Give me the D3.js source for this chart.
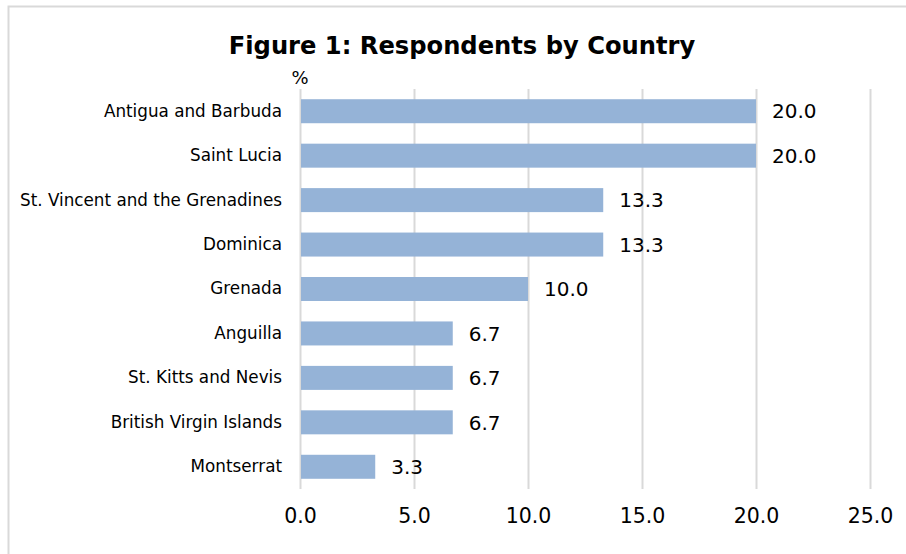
<!DOCTYPE html>
<html>
<head>
<meta charset="utf-8">
<script src="https://cdn.jsdelivr.net/npm/d3@7"></script>
<style>
  html, body { margin: 0; padding: 0; background: #fff; }
  svg { display: block; font-family: "DejaVu Sans", sans-serif; }
</style>
</head>
<body>
<svg id="chart" width="906" height="554"></svg>
<script>
const categories = ["Antigua and Barbuda", "Saint Lucia", "St. Vincent and the Grenadines", "Dominica", "Grenada", "Anguilla", "St. Kitts and Nevis", "British Virgin Islands", "Montserrat"];
const values = [20.0, 20.0, 13.3, 13.3, 10.0, 6.7, 6.7, 6.7, 3.3];
const tickValues = [0, 5, 10, 15, 20, 25];
const title = "Figure 1: Respondents by Country";
const unitLabel = "%";

const FONT = "'DejaVu Sans', sans-serif";
const svg = d3.select("#chart");
const W = 906, H = 554;
const plot = { left: 300, right: 870, top: 89, bottom: 489 };

// chart border
svg.append("path")
  .attr("d", `M8.5,${H} L8.5,6.5 L${W},6.5`)
  .attr("fill", "none").attr("stroke", "#d9d9d9").attr("stroke-width", 2);

const x = d3.scaleLinear().domain([0, 25]).range([plot.left, plot.right]);
const y = d3.scaleBand().domain(categories).range([plot.top, plot.bottom]).paddingInner(0.46).paddingOuter(0.23);

// gridlines
const xAxis = d3.axisBottom(x).tickValues(tickValues).tickFormat(d3.format(".1f")).tickSize(-(plot.bottom - plot.top)).tickPadding(19);
const gx = svg.append("g").attr("transform", `translate(0,${plot.bottom})`).call(xAxis);
gx.select(".domain").remove();
gx.selectAll(".tick line").attr("stroke", "#d9d9d9").attr("stroke-width", 2);
gx.selectAll(".tick text").attr("font-size", 20.5).attr("fill", "#000").attr("font-family", FONT).attr("dy", "0.71em");

// bars
svg.append("g").selectAll("rect").data(values).join("rect")
  .attr("x", x(0) + 1)
  .attr("y", (d, i) => y(categories[i]))
  .attr("width", d => x(d) - x(0) - 1)
  .attr("height", y.bandwidth())
  .attr("fill", "#95b3d7");

// value labels
svg.append("g").selectAll("text").data(values).join("text")
  .attr("x", d => x(d) + 16)
  .attr("y", (d, i) => y(categories[i]) + y.bandwidth() / 2)
  .attr("dy", "0.36em")
  .attr("font-size", 20)
  .attr("fill", "#000")
  .text(d => d3.format(".1f")(d));

// category axis
const yAxis = d3.axisLeft(y).tickSize(0).tickPadding(18);
const gy = svg.append("g").attr("transform", `translate(${plot.left},0)`).call(yAxis);
gy.select(".domain").remove();
gy.selectAll(".tick text").attr("font-size", 16.8).attr("fill", "#000").attr("font-family", FONT);

// title
svg.append("text")
  .attr("x", 462).attr("y", 54)
  .attr("text-anchor", "middle")
  .attr("font-size", 24.2).attr("font-weight", "bold")
  .attr("fill", "#000")
  .text(title);

// unit label
svg.append("text")
  .attr("x", 300).attr("y", 84)
  .attr("text-anchor", "middle")
  .attr("font-size", 18)
  .attr("fill", "#000")
  .text(unitLabel);
</script>
</body>
</html>
